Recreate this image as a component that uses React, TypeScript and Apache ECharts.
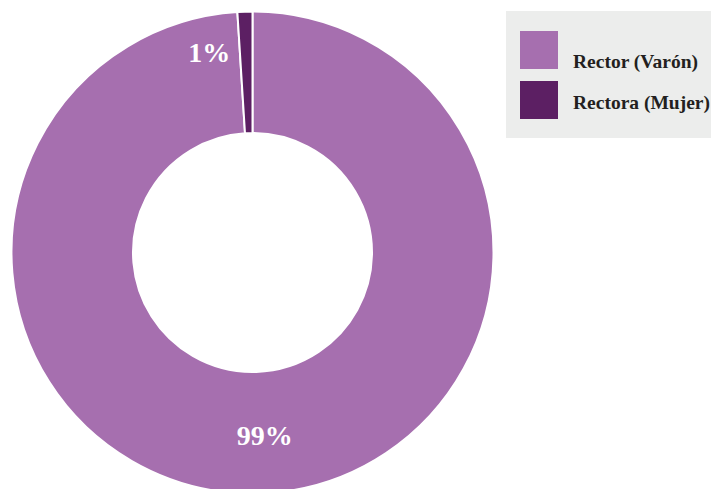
import React, { useEffect, useRef } from "react";
import * as echarts from "echarts";

const categories = ["Rector (Varón)", "Rectora (Mujer)"];
const values = [99, 1];
const colors = ["#A66FAF", "#5C1F63"];

export default function App() {
  const ref = useRef<HTMLDivElement>(null);
  useEffect(() => {
    if (!ref.current) return;
    const chart = echarts.init(ref.current, null, { renderer: "svg" });
    const serif = "Liberation Serif";
    const labelOffsets = [
      [6.6, 0],
      [-37.4, -17],
    ];
    const textBase = {
      fontFamily: serif,
      fontWeight: "bold",
      fontSize: 19.5,
      color: "#231F20",
    };
    chart.setOption({
      animation: false,
      graphic: [
        {
          type: "rect",
          z: -10,
          shape: { x: 506, y: 11, width: 205, height: 127 },
          style: { fill: "#ECEDEC" },
        },
      ],
      legend: {
        orient: "vertical",
        left: 506,
        top: 11,
        padding: [20, 0, 21, 14],
        itemGap: 10,
        itemWidth: 38,
        itemHeight: 38,
        icon: "rect",
        selectedMode: false,
        itemStyle: { borderWidth: 0 },
        data: categories,
        formatter: (name: string) =>
          name === categories[0] ? `{a|${name}}` : `{b|${name}}`,
        textStyle: {
          ...textBase,
          padding: [0, 0, 0, 10],
          rich: {
            a: { ...textBase, padding: [22, 0, 0, 0] },
            b: { ...textBase, padding: [4, 0, 0, 0] },
          },
        },
      },
      series: [
        {
          type: "pie",
          center: [252.5, 252.5],
          radius: [119.5, 241],
          startAngle: 90,
          clockwise: true,
          avoidLabelOverlap: false,
          itemStyle: { borderColor: "#ffffff", borderWidth: 2 },
          label: {
            show: true,
            position: "inside",
            formatter: "{c}%",
            color: "#ffffff",
            fontFamily: serif,
            fontWeight: "bold",
            fontSize: 28,
          },
          labelLine: { show: false },
          emphasis: { disabled: true },
          data: categories.map((name, i) => ({
            name,
            value: values[i],
            itemStyle: { color: colors[i] },
            label: { offset: labelOffsets[i] },
          })),
        },
      ],
    });
    return () => chart.dispose();
  }, []);
  return (
    <div
      ref={ref}
      style={{ position: "absolute", left: 0, top: 0, width: 711, height: 489 }}
    />
  );
}
